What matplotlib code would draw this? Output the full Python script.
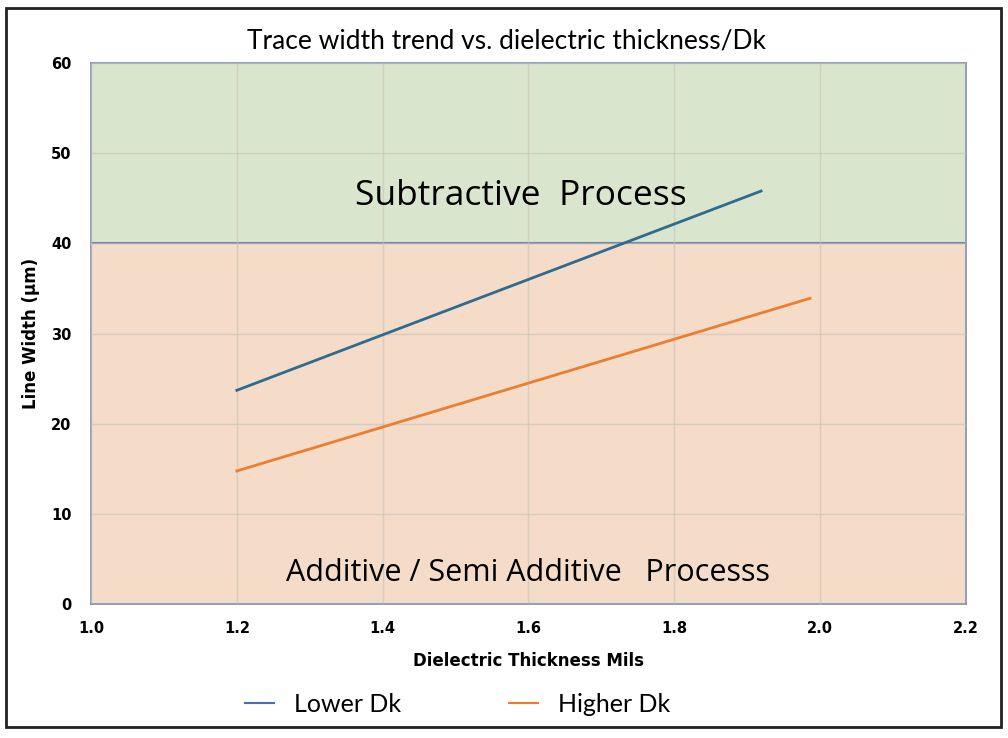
import matplotlib.pyplot as plt
from matplotlib.patches import Rectangle

thickness_lower = [1.2, 1.6, 1.919]
width_lower = [23.7, 36.0, 45.8]
thickness_higher = [1.2, 1.6, 1.986]
width_higher = [14.75, 24.5, 33.9]
series_names = ['Lower Dk', 'Higher Dk']
colors = ['#2f6b8e', '#ed7d31']

x_ticks = [1.0, 1.2, 1.4, 1.6, 1.8, 2.0, 2.2]
y_ticks = [0, 10, 20, 30, 40, 50, 60]
split_level = 40

fig = plt.figure(figsize=(10.08, 7.38), dpi=100)
ax = fig.add_axes([0.0903, 0.1816, 0.868, 0.733])

ax.axhspan(split_level, 60, color='#d9e5cc', zorder=0)
ax.axhspan(0, split_level, color='#f4dcc8', zorder=0)
ax.axhline(split_level, color='#6b7fa8', lw=1.5, zorder=2)

ax.plot(thickness_lower, width_lower, color=colors[0], lw=2, label=series_names[0], zorder=3)
ax.plot(thickness_higher, width_higher, color=colors[1], lw=2, label=series_names[1], zorder=3)

ax.set_xlim(1.0, 2.2)
ax.set_ylim(0, 60)
ax.set_xticks(x_ticks)
ax.set_yticks(y_ticks)
ax.set_xticklabels(['%.1f' % v for v in x_ticks], fontweight='bold', fontsize=10.5)
ax.set_yticklabels([str(v) for v in y_ticks], fontweight='bold', fontsize=10.5)
ax.tick_params(length=0, pad=12)
ax.tick_params(axis='y', pad=14)
ax.grid(color='#c9c2b4', lw=1, alpha=0.6, zorder=1)
ax.set_axisbelow(False)
for s in ax.spines.values():
    s.set_color('#7a8fb5')
    s.set_linewidth(1.2)

ax.set_xlabel('Dielectric Thickness Mils', fontweight='bold', fontsize=12, labelpad=12)
ax.set_ylabel('Line Width (\u03bcm)', fontweight='bold', fontsize=12, labelpad=8)

fig.text(0.502, 0.945, 'Trace width trend vs. dielectric thickness/Dk', ha='center', va='center',
         fontsize=19, family='Lato')
ax.text(1.59, 45.2, 'Subtractive  Process', ha='center', va='center', fontsize=25.5, family='Open Sans', zorder=4)
ax.text(1.60, 3.4, 'Additive / Semi Additive   Processs', ha='center', va='center', fontsize=22,
        family='Open Sans', zorder=4)

leg = fig.legend(loc='center', bbox_to_anchor=(0.454, 0.046), ncol=2, frameon=False,
                 prop={'family': 'Lato', 'size': 18}, handlelength=1.15, columnspacing=4.3)
for h, c in zip(leg.get_lines(), ['#4a6fb5', '#ed7d31']):
    h.set_color(c)
    h.set_linewidth(1.5)

fig.patches.append(Rectangle((0.006, 0.015), 0.987, 0.974, transform=fig.transFigure,
                             fill=False, edgecolor='#222222', lw=2))

fig.savefig('out.png', dpi=100)
